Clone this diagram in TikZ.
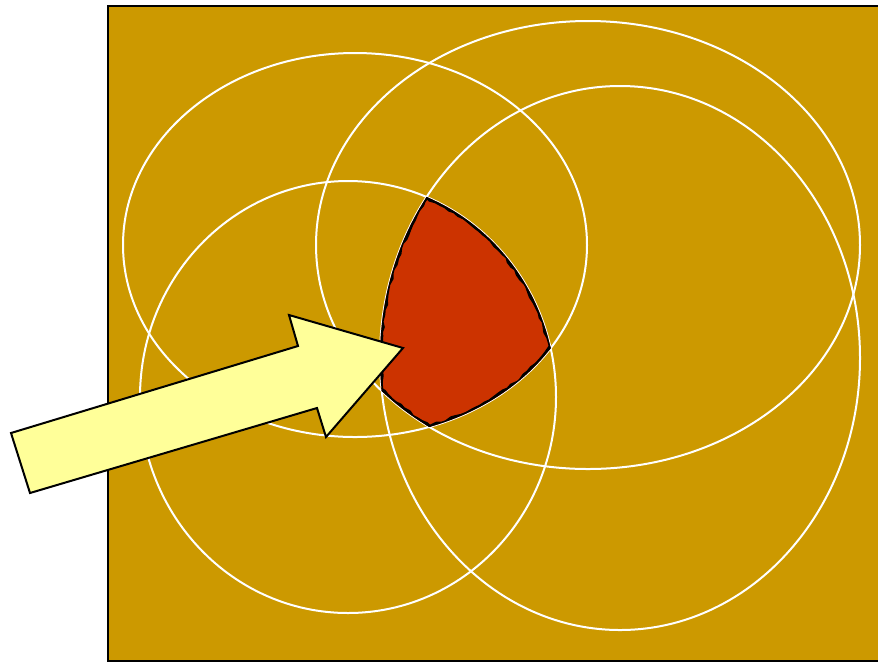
\documentclass[tikz,border=0pt]{standalone}
\usetikzlibrary{decorations.pathmorphing}
\definecolor{bgc}{HTML}{CC9900}
\definecolor{redreg}{HTML}{CC3300}
\definecolor{arrowyellow}{HTML}{FFFF99}
\begin{document}
\begin{tikzpicture}[x=0.75pt,y=-0.75pt,
  ell/.style={draw=white,line width=1.5pt},
  bordr/.style={draw=black,line width=3.6pt,decorate,decoration={random steps,segment length=4pt,amplitude=0.8pt}},
  bigarrow/.style={draw=black,fill=arrowyellow,line width=1.5pt,line join=miter}]
\useasboundingbox (0,0) rectangle (878,662);
\draw[fill=bgc,line width=1.5pt] (108,6) rectangle (890,661);
% white ellipses
\draw[ell] (355,245) ellipse [x radius=232, y radius=192];
\draw[ell] (588,245) ellipse [x radius=272, y radius=224];
\draw[ell] (348,397) ellipse [x radius=208, y radius=216];
\draw[ell] (620,358) ellipse [x radius=240, y radius=272];
% red intersection region
\begin{scope}
  \clip (355,245) ellipse [x radius=232, y radius=192];
  \clip (588,245) ellipse [x radius=272, y radius=224];
  \clip (348,397) ellipse [x radius=208, y radius=216];
  \clip (620,358) ellipse [x radius=240, y radius=272];
  \fill[redreg] (0,0) rectangle (878,662);
  \draw[bordr] (355,245) ellipse [x radius=232, y radius=192];
  \draw[bordr] (588,245) ellipse [x radius=272, y radius=224];
  \draw[bordr] (348,397) ellipse [x radius=208, y radius=216];
  \draw[bordr] (620,358) ellipse [x radius=240, y radius=272];
\end{scope}
% arrow
\draw[bigarrow] (11,433) -- (298,346) -- (289,315) -- (403,348) -- (326,437) -- (317,408) -- (30,493) -- cycle;
\end{tikzpicture}
\end{document}
